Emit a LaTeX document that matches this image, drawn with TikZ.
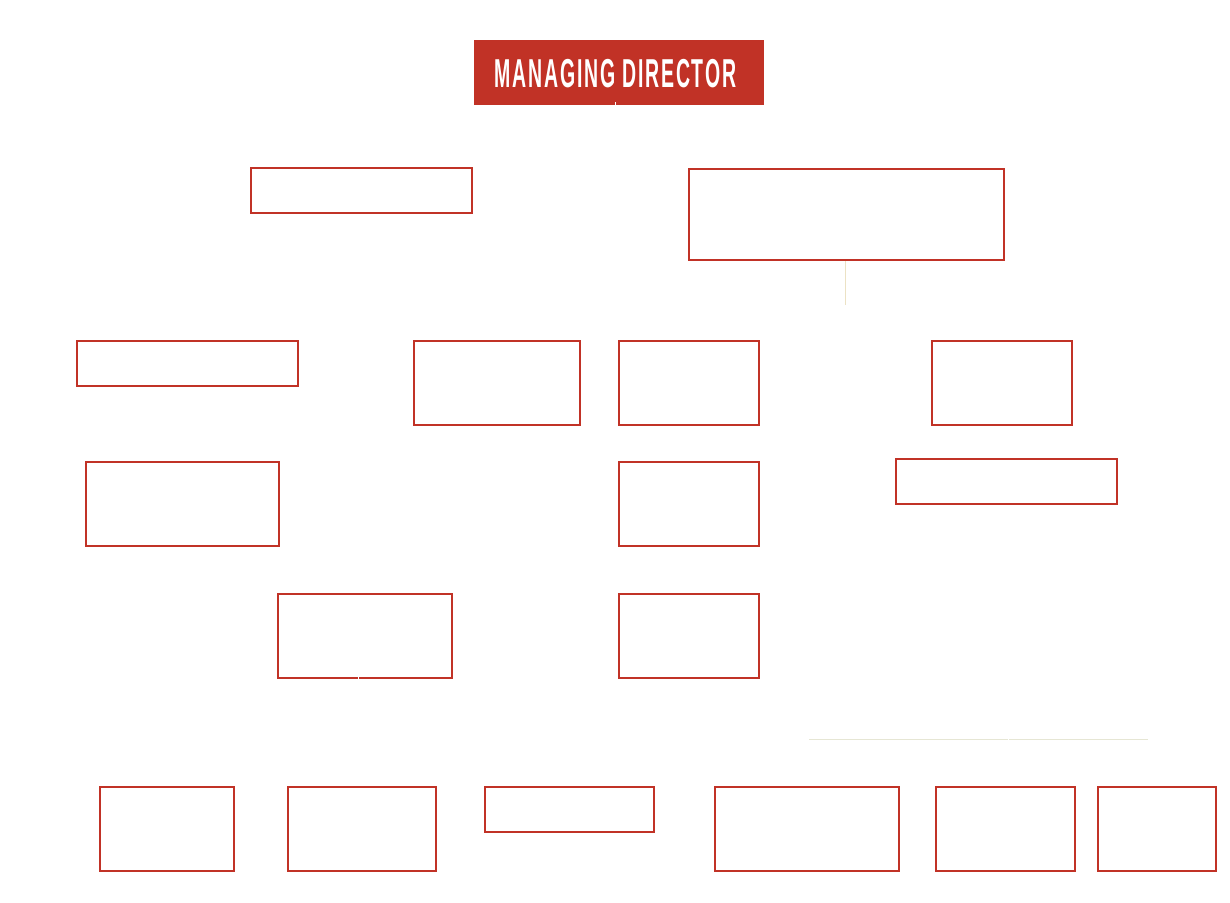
\documentclass[tikz,border=0pt]{standalone}
\usepackage{fontspec}
\newfontfamily\titlefont{Liberation Sans}[BoldFont={Liberation Sans Bold}, LetterSpace=9]
\usepackage{graphicx}
\definecolor{mdred}{RGB}{193,50,38}
\definecolor{faintA}{RGB}{236,226,196}
\definecolor{faintB}{RGB}{230,230,212}
\begin{document}
\begin{tikzpicture}[x=1pt,y=-1pt,
  box/.style={draw=mdred, line width=2pt, inner sep=0pt, fill=white},
  mdbox/.style={fill=mdred, inner sep=0pt, text=white, minimum width=290pt, minimum height=65pt},
  faint/.style={line width=1pt}]
\useasboundingbox (0,0) rectangle (1230,902);
\fill[white] (0,0) rectangle (1230,902);

% Managing director
\node[mdbox] (md) at (619,72.5) {};
\node[inner sep=0pt, anchor=north west, text=white] (mdt) at (494.5,59.2)
  {\resizebox{241.5pt}{28.2pt}{\titlefont\bfseries MANAGING DIRECTOR}};

% second row
\node[box, minimum width=221pt, minimum height=45pt] (a) at (361.5,190.5) {};
\node[box, minimum width=315pt, minimum height=91pt] (b) at (846.5,214.5) {};

% third row
\node[box, minimum width=221pt, minimum height=45pt] (c1) at (187.5,363.5) {};
\node[box, minimum width=166pt, minimum height=84pt] (c2) at (497,383) {};
\node[box, minimum width=140pt, minimum height=84pt] (c3) at (689,383) {};
\node[box, minimum width=140pt, minimum height=84pt] (c4) at (1002,383) {};

% fourth row
\node[box, minimum width=193pt, minimum height=84pt] (d1) at (182.5,504) {};
\node[box, minimum width=140pt, minimum height=84pt] (d2) at (689,504) {};
\node[box, minimum width=221pt, minimum height=45pt] (d3) at (1006.5,481.5) {};

% fifth row
\node[box, minimum width=174pt, minimum height=84pt] (e1) at (365,636) {};
\node[box, minimum width=140pt, minimum height=84pt] (e2) at (689,636) {};

% bottom row
\node[box, minimum width=134pt, minimum height=84pt] (f1) at (167,829) {};
\node[box, minimum width=148pt, minimum height=84pt] (f2) at (362,829) {};
\node[box, minimum width=169pt, minimum height=45pt] (f3) at (569.5,809.5) {};
\node[box, minimum width=184pt, minimum height=84pt] (f4) at (807,829) {};
\node[box, minimum width=139pt, minimum height=84pt] (f5) at (1005.5,829) {};
\node[box, minimum width=118pt, minimum height=84pt] (f6) at (1157,829) {};

% faint connectors
\coordinate (bdown) at (845,305);
\draw[faint, draw=faintA] ([xshift=-1.5pt]b.south) -- (bdown);
\coordinate (h1) at (809,739.5);
\coordinate (h2) at (1007.5,739.5);
\coordinate (h3) at (1009,739.5);
\coordinate (h4) at (1148,739.5);
\draw[faint, draw=faintB] (h1) -- (h2);
\draw[faint, draw=faintB] (h3) -- (h4);

% white connectors (visible only where they cross red)
\coordinate (mddown) at (615.5,140);
\draw[white, line width=1pt] (615.5,102) -- (mddown);
\coordinate (e1down) at (358,720);
\draw[white, line width=1pt] (358,676) -- (e1down);
\end{tikzpicture}
\end{document}
